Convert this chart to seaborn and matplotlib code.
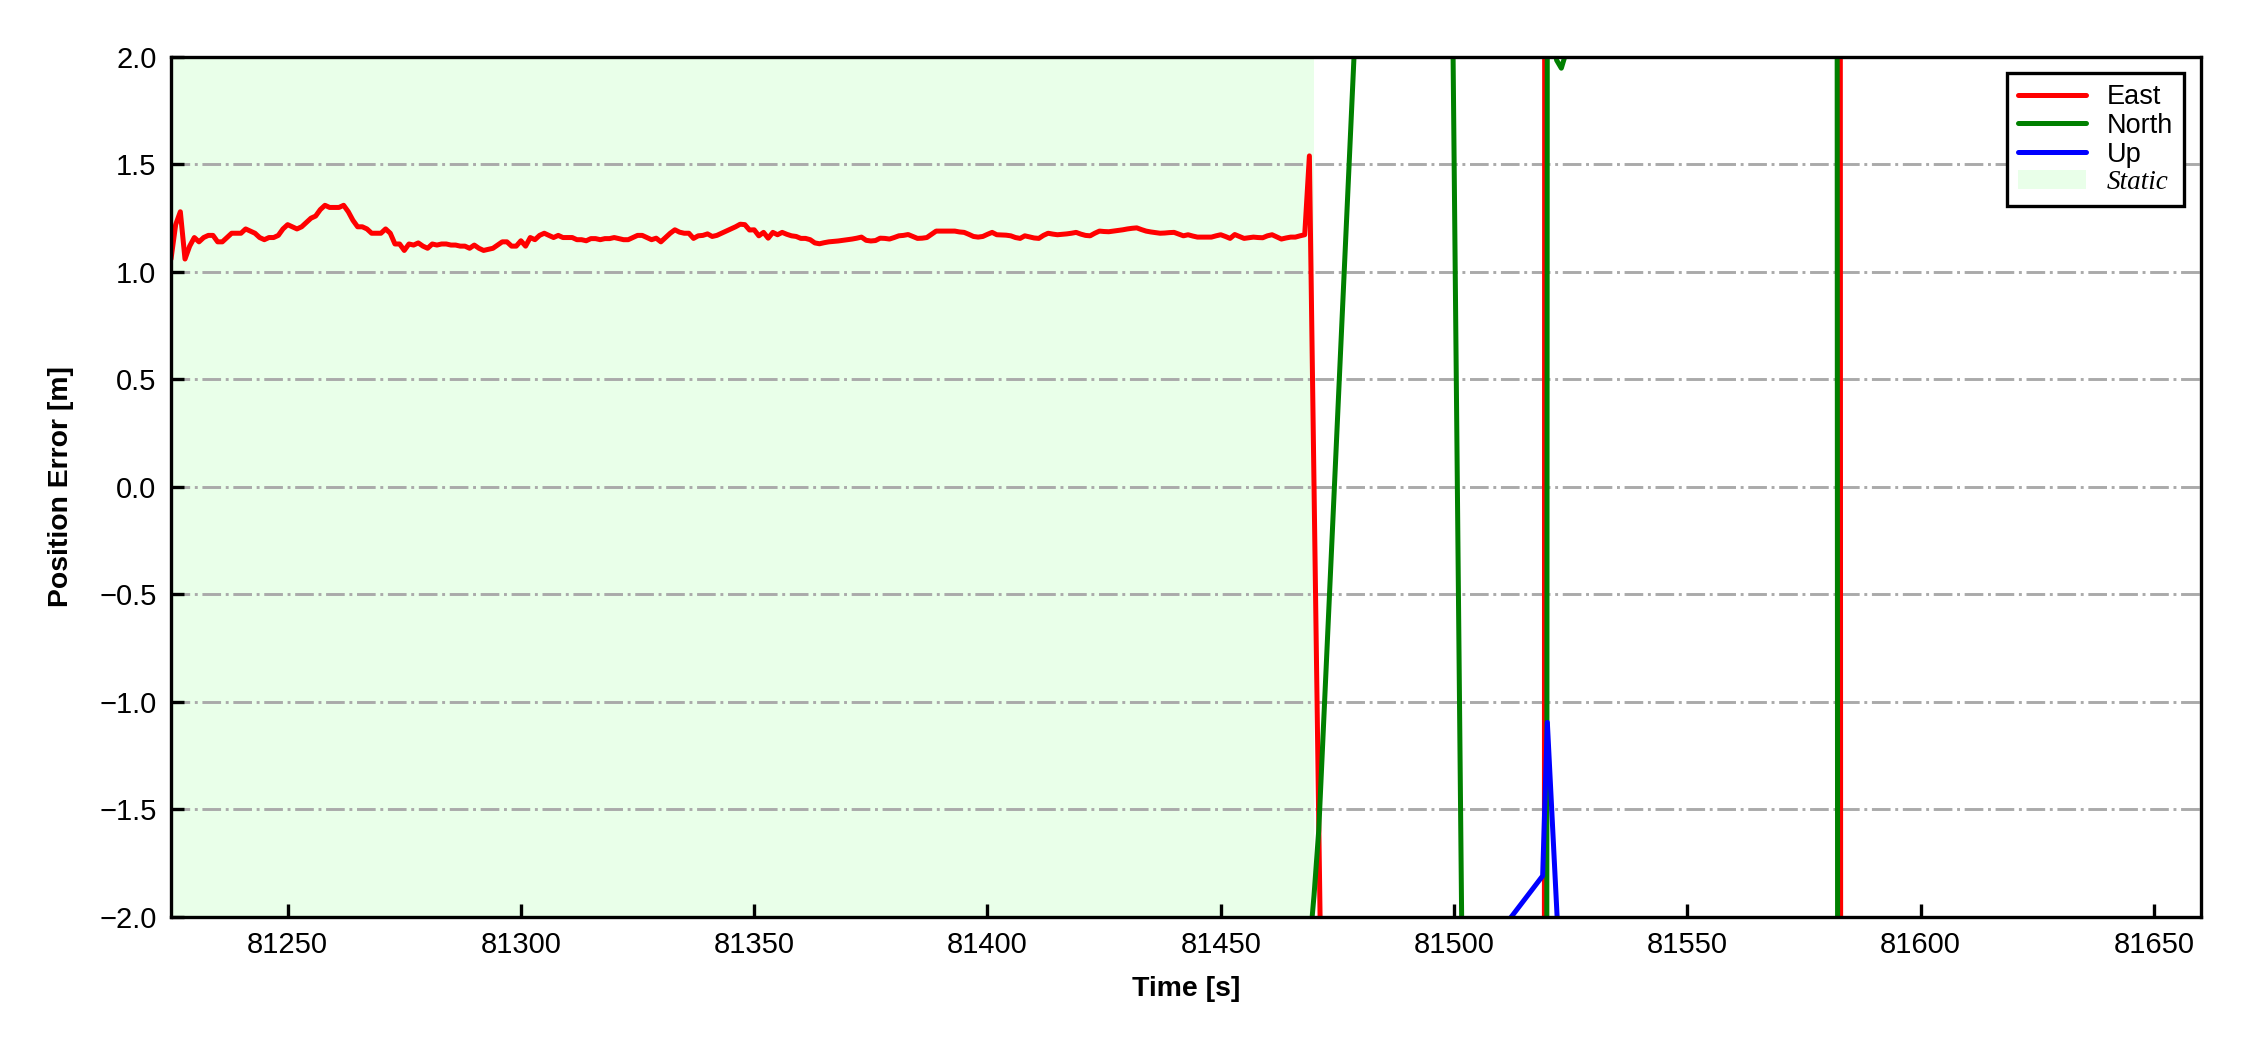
import numpy as np
import pandas as pd
import matplotlib.pyplot as plt
from matplotlib.lines import Line2D
from matplotlib.patches import Patch
import seaborn as sns

# Static period: East error, one epoch per second (81225 .. 81469)
tempo_static = np.arange(81225, 81470)
east_static = [
    1.06, 1.22, 1.28, 1.06, 1.12, 1.16, 1.14, 1.16, 1.17, 1.17,
    1.14, 1.14, 1.16, 1.18, 1.18, 1.18, 1.20, 1.19, 1.18, 1.16,
    1.15, 1.16, 1.16, 1.17, 1.20, 1.22, 1.21, 1.20, 1.21, 1.23,
    1.25, 1.26, 1.29, 1.31, 1.30, 1.30, 1.30, 1.31, 1.28, 1.24,
    1.21, 1.21, 1.20, 1.18, 1.18, 1.18, 1.20, 1.18, 1.13, 1.13,
    1.10, 1.13, 1.125, 1.135, 1.12, 1.11, 1.13, 1.125, 1.13, 1.13,
    1.125, 1.125, 1.12, 1.12, 1.11, 1.125, 1.11, 1.10, 1.105, 1.11,
    1.125, 1.14, 1.14, 1.12, 1.12, 1.145, 1.12, 1.16, 1.15, 1.17,
    1.18, 1.17, 1.16, 1.17, 1.16, 1.16, 1.16, 1.15, 1.15, 1.145,
    1.155, 1.155, 1.15, 1.155, 1.155, 1.16, 1.155, 1.15, 1.15, 1.16,
    1.17, 1.17, 1.16, 1.15, 1.157, 1.14, 1.16, 1.18, 1.196, 1.185,
    1.18, 1.18, 1.156, 1.168, 1.17, 1.177, 1.165, 1.17, 1.18, 1.19,
    1.20, 1.21, 1.222, 1.22, 1.195, 1.196, 1.168, 1.184, 1.157, 1.184,
    1.173, 1.184, 1.175, 1.168, 1.165, 1.156, 1.156, 1.15, 1.135, 1.131,
    1.136, 1.14, 1.142, 1.144, 1.147, 1.15, 1.153, 1.157, 1.162, 1.147,
    1.144, 1.146, 1.157, 1.156, 1.153, 1.16, 1.168, 1.17, 1.174, 1.165,
    1.156, 1.157, 1.16, 1.175, 1.19, 1.19, 1.19, 1.19, 1.19, 1.186,
    1.184, 1.175, 1.165, 1.162, 1.165, 1.175, 1.184, 1.173, 1.172, 1.171,
    1.168, 1.16, 1.156, 1.168, 1.163, 1.158, 1.156, 1.17, 1.18, 1.176,
    1.173, 1.175, 1.177, 1.18, 1.184, 1.176, 1.17, 1.168, 1.18, 1.19,
    1.188, 1.187, 1.19, 1.193, 1.196, 1.20, 1.203, 1.205, 1.197, 1.19,
    1.186, 1.183, 1.18, 1.181, 1.183, 1.184, 1.176, 1.168, 1.173, 1.167,
    1.162, 1.162, 1.162, 1.162, 1.168, 1.173, 1.165, 1.156, 1.174, 1.165,
    1.156, 1.159, 1.162, 1.16, 1.159, 1.168, 1.173, 1.163, 1.153, 1.158,
    1.162, 1.162, 1.168, 1.173, 1.54,
]

# After the static period: sparse epochs, most values far outside +-2 m
tempo_east_pos = [81470, 81471, 81472, 81519, 81520, 81582, 81583, 81660]
east_pos = [0.0, -1.54, -3.1, -30.0, 45.0, 50.0, -10.0, -10.0]

tempo_north = [81225, 81469, 81470, 81471, 81496, 81502, 81519, 81520,
               81521, 81522, 81523, 81524, 81525, 81582, 81583, 81660]
north = [-3.0, -2.15, -1.9, -1.6, 10.3, -2.8, -40.0, 2.6,
         2.1, 1.985, 1.948, 2.02, 2.2, 8.0, -40.0, -40.0]

tempo_up = [81225, 81469, 81500, 81517, 81519, 81520, 81523, 81583, 81660]
up = [-3.0, -3.0, -2.35, -1.867, -1.81, -1.096, -2.39, -3.0, -3.0]

fim_static = 81470
componentes = ['East', 'North', 'Up']
cores = {'East': 'red', 'North': 'green', 'Up': 'blue'}
cor_static = '#00ff00'

df = pd.concat([
    pd.DataFrame({'Time': np.concatenate([tempo_static, tempo_east_pos]),
                  'Error': east_static + east_pos, 'Component': 'East'}),
    pd.DataFrame({'Time': tempo_north, 'Error': north, 'Component': 'North'}),
    pd.DataFrame({'Time': tempo_up, 'Error': up, 'Component': 'Up'}),
], ignore_index=True)

sns.set_style('ticks')
plt.rcParams['font.family'] = ['Liberation Sans', 'DejaVu Sans']
plt.rcParams['text.color'] = 'black'
plt.rcParams['axes.labelcolor'] = 'black'

fig, ax = plt.subplots(figsize=(7.5, 3.5), dpi=300)
fig.subplots_adjust(left=0.076, right=0.978, bottom=0.127, top=0.9457)

# Static interval shading
ax.axvspan(tempo_static[0], fim_static, color=cor_static, alpha=0.085, lw=0, zorder=0)

sns.lineplot(data=df, x='Time', y='Error', hue='Component', hue_order=componentes,
             palette=cores, estimator=None, sort=False, lw=1.2, legend=False, ax=ax)

ax.set_xlim(df['Time'].min(), df['Time'].max())
ax.set_ylim(-2, 2)
ax.set_xticks(np.arange(81250, 81651, 50))
ax.set_yticks(np.arange(-2, 2.01, 0.5))
ax.yaxis.grid(True, ls='-.', color='#aaaaaa', lw=0.7)
ax.xaxis.grid(False)
ax.tick_params(direction='in', length=3.2, width=0.8, labelsize=7, colors='black')
for s in ax.spines.values():
    s.set_linewidth(0.8)
    s.set_color('black')

ax.set_xlabel('Time [s]', fontsize=6.8, fontweight='bold', color='black')
ax.set_ylabel('Position Error [m]', fontsize=6.8, fontweight='bold', color='black', labelpad=6)

# Legend
handles = [Line2D([], [], color=cores[c], lw=1.2) for c in componentes]
handles.append(Patch(facecolor=cor_static, alpha=0.085, lw=0))
leg = ax.legend(handles, componentes + ['Static'], loc='upper right', fontsize=6.5,
                frameon=True, fancybox=False, edgecolor='black', framealpha=1,
                handlelength=2.5, labelspacing=0.1, borderaxespad=0.6)
leg.get_frame().set_linewidth(0.8)
for t in leg.get_texts():
    t.set_color('black')
leg.get_texts()[3].set_fontfamily(['Liberation Serif'])
leg.get_texts()[3].set_fontstyle('italic')

fig.savefig('out.png', dpi=300)
